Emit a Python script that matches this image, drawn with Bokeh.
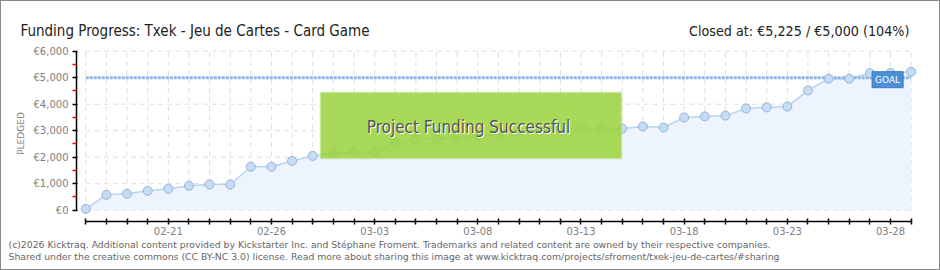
from bokeh.plotting import figure
from bokeh.models import Label, BoxAnnotation, FixedTicker, Range1d, Plot
from bokeh.layouts import column, row
from bokeh.embed import file_html
from bokeh.resources import INLINE

# ---------------- data ----------------
dates = ["02-17", "02-18", "02-19", "02-20", "02-21", "02-22", "02-23", "02-24",
         "02-25", "02-26", "02-27", "02-28", "03-01", "03-02", "03-03", "03-04",
         "03-05", "03-06", "03-07", "03-08", "03-09", "03-10", "03-11", "03-12",
         "03-13", "03-14", "03-15", "03-16", "03-17", "03-18", "03-19", "03-20",
         "03-21", "03-22", "03-23", "03-24", "03-25", "03-26", "03-27", "03-28",
         "03-29"]
pledged = [50, 580, 620, 730, 810, 920, 970, 970, 1640, 1640, 1860, 2050,
           2150, 2190, 2200, 2570, 2660, 2720, 2730, 2780, 2850, 2950, 3050,
           3110, 3100, 3050, 3080, 3160, 3120, 3500, 3540, 3570, 3840, 3880,
           3910, 4520, 4960, 4960, 5170, 5180, 5225]
goal = 5000
labelled_dates = ["02-21", "02-26", "03-03", "03-08", "03-13", "03-18", "03-23", "03-28"]
y_ticks = [0, 1000, 2000, 3000, 4000, 5000, 6000]
y_minor = [500, 1500, 2500, 3500, 4500, 5500]
y_tick_labels = ["€0", "€1,000", "€2,000", "€3,000", "€4,000", "€5,000", "€6,000"]
title_left = "Funding Progress: Txek - Jeu de Cartes - Card Game"
title_right = "Closed at:  €5,225 /  €5,000 (104%)"
footer1 = ("(c)2026 Kicktraq. Additional content provided by Kickstarter Inc. and Stéphane Froment. "
           "Trademarks and related content are owned by their respective companies.")
footer2 = ("Shared under the creative commons (CC BY-NC 3.0) license. Read more about sharing this "
           "image at www.kicktraq.com/projects/sfroment/txek-jeu-de-cartes/#sharing")

x = list(range(len(dates)))

TITLE_FONT = "DejaVu Sans Condensed"
SMALL_FONT = "DejaVu Sans"
HAS_FRAME_ALIGN = "frame_align" in Plot.properties()

# ---------------- layout (canvas pixels) ----------------
W = 940
IN_W = W - 2                    # inner width (1px border each side)
H_HEAD, H_MAIN, H_FOOT = 39, 199, 30
Y_HEAD, Y_MAIN, Y_FOOT = 1, 1 + H_HEAD, 1 + H_HEAD + H_MAIN
FL, FR, FT, FB = 76, 916, 45, 221   # main frame edges in canvas pixels


def no_align(f):
    if HAS_FRAME_ALIGN:
        f.frame_align = False
    return f


def bare(h):
    f = figure(width=IN_W, height=h, output_backend="svg", toolbar_location=None,
               x_range=Range1d(0, 1), y_range=Range1d(0, 1),
               x_axis_location=None, y_axis_location=None,
               min_border=0, min_border_left=0, min_border_right=0,
               min_border_top=0, min_border_bottom=0)
    f.grid.visible = False
    f.outline_line_color = None
    f.background_fill_color = "white"
    f.border_fill_color = "white"
    return no_align(f)


def hx(X):
    return X - 1


# ---- header ----
head = bare(H_HEAD)


def hy(Y):
    return (Y_HEAD + H_HEAD) - Y


head.add_layout(Label(x=hx(20), y=hy(30.7), x_units="screen", y_units="screen",
                      text=title_left, text_align="left", text_baseline="alphabetic",
                      text_font=TITLE_FONT, text_font_size="15px", text_color="#222222"))
head.add_layout(Label(x=hx(917), y=hy(30.7), x_units="screen", y_units="screen",
                      text=title_right, text_align="right", text_baseline="alphabetic",
                      text_font=TITLE_FONT, text_font_size="14.2px", text_color="#222222"))

# ---- main ----
p = figure(width=IN_W, height=H_MAIN, output_backend="svg", toolbar_location=None,
           x_range=Range1d(-0.45, 40.26), y_range=Range1d(-426, 6215),
           min_border_left=FL - 1, min_border_right=(1 + IN_W) - FR,
           min_border_top=FT - Y_MAIN, min_border_bottom=(Y_MAIN + H_MAIN) - FB)
no_align(p)
p.background_fill_color = "white"
p.border_fill_color = "white"
p.outline_line_color = None
p.xgrid.visible = False
p.ygrid.visible = False


def cx(X):
    return X - FL


def cy(Y):
    return FB - Y


n = len(x)
p.segment(x0=x, y0=[y_ticks[0]] * n, x1=x, y1=[y_ticks[-1]] * n,
          line_color="#dedede", line_width=1, line_dash="5 4")
p.segment(x0=[x[0]] * len(y_ticks), y0=y_ticks, x1=[x[-1]] * len(y_ticks), y1=y_ticks,
          line_color="#dedede", line_width=1, line_dash="5 4")

p.varea(x=x, y1=[0] * n, y2=pledged, fill_color="#edf4fd")
p.line(x, pledged, line_color="#b7d3f1", line_width=1.5)
p.line([x[0], x[-1]], [goal, goal], line_color="#8fb5e0", line_width=3, line_dash="3 1")
p.scatter(x, pledged, size=9, fill_color="#c4dcf6", line_color="#9ab2d3", line_width=1)

p.xaxis.bounds = (x[0], x[-1])
p.xaxis.ticker = FixedTicker(ticks=x, minor_ticks=[])
p.xaxis.major_label_overrides = {i: (d if d in labelled_dates else "") for i, d in zip(x, dates)}
p.xaxis.axis_line_color = "black"
p.xaxis.axis_line_width = 1.5
p.xaxis.major_tick_line_color = "black"
p.xaxis.major_tick_line_width = 1.5
p.xaxis.major_tick_in = 3
p.xaxis.major_tick_out = 3
p.xaxis.major_label_standoff = 2
p.xaxis.major_label_text_font = SMALL_FONT
p.xaxis.major_label_text_font_size = "10px"
p.xaxis.major_label_text_color = "#808080"

p.yaxis.bounds = (y_ticks[0], y_ticks[-1])
p.yaxis.ticker = FixedTicker(ticks=y_ticks, minor_ticks=y_minor)
p.yaxis.major_label_overrides = {t: l for t, l in zip(y_ticks, y_tick_labels)}
p.yaxis.axis_line_color = "black"
p.yaxis.axis_line_width = 1.5
p.yaxis.major_tick_line_color = "black"
p.yaxis.major_tick_line_width = 1.5
p.yaxis.major_tick_in = 1
p.yaxis.major_tick_out = 4
p.yaxis.minor_tick_line_color = "red"
p.yaxis.minor_tick_line_width = 1.5
p.yaxis.minor_tick_in = 0
p.yaxis.minor_tick_out = 4
p.yaxis.major_label_standoff = 4
p.yaxis.major_label_text_font = SMALL_FONT
p.yaxis.major_label_text_font_size = "10px"
p.yaxis.major_label_text_color = "#808080"
p.yaxis.axis_label = "PLEDGED"
p.yaxis.axis_label_text_font = SMALL_FONT
p.yaxis.axis_label_text_font_size = "9px"
p.yaxis.axis_label_text_font_style = "normal"
p.yaxis.axis_label_text_color = "#808080"
p.yaxis.axis_label_standoff = 5

p.add_layout(Label(x=x[-1], y=goal, text="GOAL", x_offset=-8, y_offset=-2,
                   text_align="right", text_baseline="middle",
                   text_font=SMALL_FONT, text_font_size="9px",
                   text_color="white", background_fill_color="#4a8fd8",
                   border_line_color="#3a7cc8", padding=3))

p.add_layout(BoxAnnotation(left=cx(320), right=cx(621), top=cy(92), bottom=cy(158),
                           left_units="screen", right_units="screen",
                           top_units="screen", bottom_units="screen",
                           fill_color="#9ed63f", fill_alpha=0.85,
                           line_color="#b6e27a", line_width=2,
                           hatch_pattern="right_diagonal_line", hatch_color="#8cc236",
                           hatch_alpha=0.25, hatch_scale=4, hatch_weight=1))
for dx, dy, col in [(1, -1, "white"), (0, 0, "#555555")]:
    p.add_layout(Label(x=cx(468) + dx, y=cy(126) + dy, x_units="screen", y_units="screen",
                       text="Project Funding Successful", text_align="center",
                       text_baseline="middle", text_font=TITLE_FONT,
                       text_font_size="17px", text_color=col))

# ---- footer ----
foot = bare(H_FOOT)


def fy(Y):
    return (Y_FOOT + H_FOOT) - Y


for t, yy in [(footer1, 243.5), (footer2, 255.5)]:
    foot.add_layout(Label(x=hx(8), y=fy(yy), x_units="screen", y_units="screen",
                          text=t, text_align="left", text_baseline="middle",
                          text_font=SMALL_FONT, text_font_size="9.3px",
                          text_color="#666666"))

if HAS_FRAME_ALIGN:
    layout = column(head, p, foot, spacing=0,
                    styles={"border": "1px solid #8a8a8a", "background-color": "white"})
else:
    layout = column(row(head), p, row(foot), spacing=0,
                    styles={"border": "1px solid #8a8a8a", "background-color": "white"})

open("out.html", "w").write(file_html(layout, INLINE))
